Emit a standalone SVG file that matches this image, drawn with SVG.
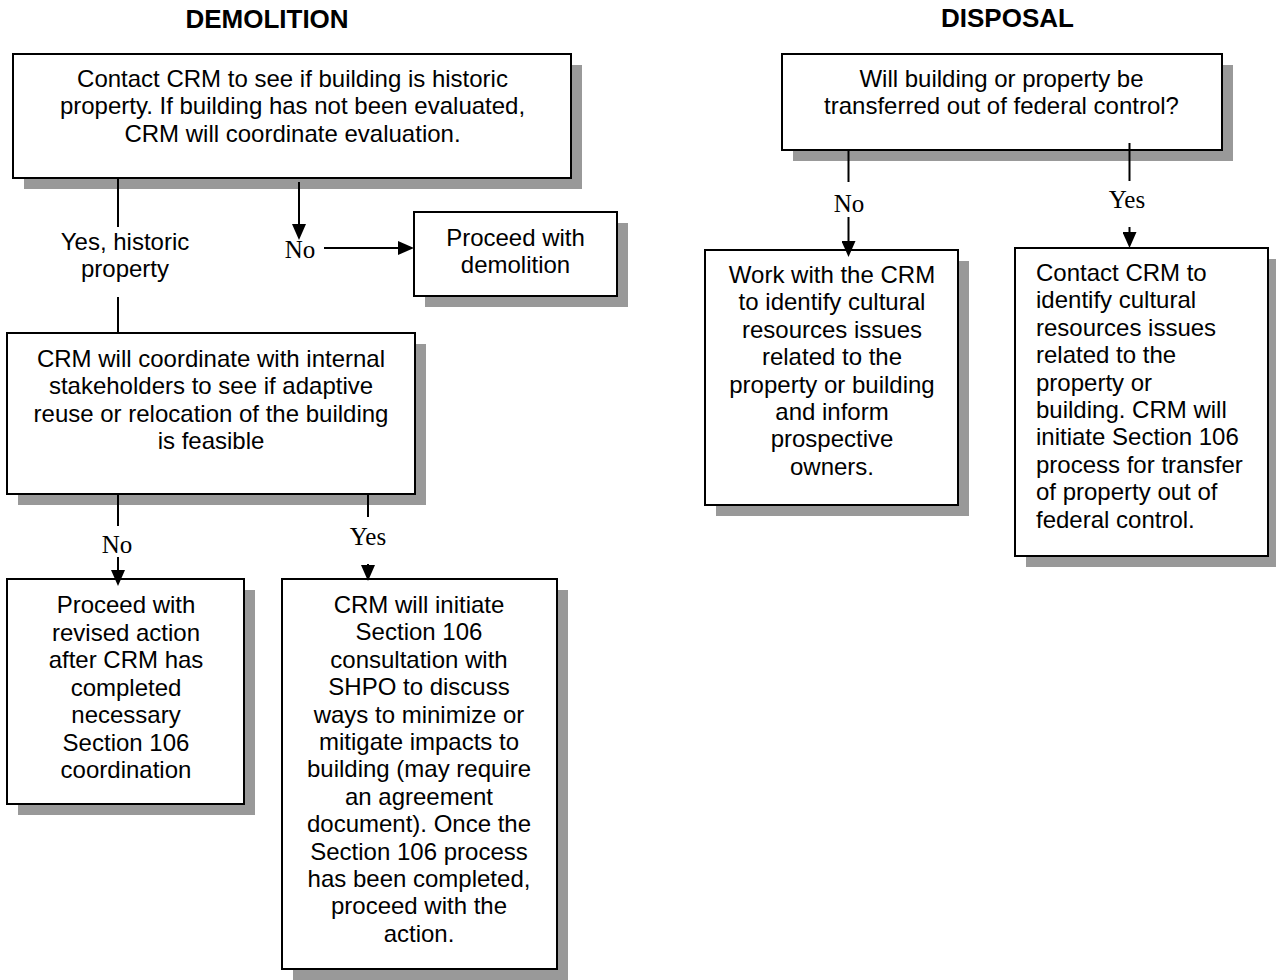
<svg xmlns="http://www.w3.org/2000/svg" width="1276" height="980" viewBox="0 0 1276 980">
<style>
.shadow{fill:#999999;stroke:none}
.box{fill:#ffffff;stroke:#000000;stroke-width:2}
.t{font-family:"Liberation Sans",Arial,sans-serif;font-size:24px;fill:#000000}
.c{text-anchor:middle}
.title{font-family:"Liberation Sans",Arial,sans-serif;font-size:26px;font-weight:bold;text-anchor:middle;fill:#000000}
.lbl{font-family:"Liberation Serif","Times New Roman",serif;font-size:25px;text-anchor:middle;fill:#000000}
.ln{stroke:#000000;stroke-width:2;fill:none}
.arr{marker-end:url(#ah)}
</style>
<defs>
<marker id="ah" markerUnits="userSpaceOnUse" markerWidth="16" markerHeight="14" refX="12" refY="7" orient="auto">
<path d="M0,0 L16,7 L0,14 z" fill="#000000"/>
</marker>
</defs>
<rect width="1276" height="980" fill="#ffffff"/>
<text class="title" x="267" y="27.5">DEMOLITION</text>
<text class="title" x="1007.5" y="27">DISPOSAL</text>

<g id="n-contact">
<rect class="shadow" x="24" y="65" width="558" height="124"/>
<rect class="box" x="13" y="54" width="558" height="124"/>
<text class="t c" x="292.5" y="87">Contact CRM to see if building is historic<tspan x="292.5" dy="27.4">property. If building has not been evaluated,</tspan><tspan x="292.5" dy="27.4">CRM will coordinate evaluation.</tspan></text>
</g>

<g id="n-proceed-demolition">
<rect class="shadow" x="425" y="223" width="203" height="84"/>
<rect class="box" x="414" y="212" width="203" height="84"/>
<text class="t c" x="515.5" y="246">Proceed with<tspan x="515.5" dy="27">demolition</tspan></text>
</g>

<g id="n-coordinate">
<rect class="shadow" x="18" y="344" width="408" height="161"/>
<rect class="box" x="7" y="333" width="408" height="161"/>
<text class="t c" x="211" y="367">CRM will coordinate with internal<tspan x="211" dy="27.4">stakeholders to see if adaptive</tspan><tspan x="211" dy="27.4">reuse or relocation of the building</tspan><tspan x="211" dy="27.4">is feasible</tspan></text>
</g>

<g id="n-revised">
<rect class="shadow" x="18" y="590" width="237" height="225"/>
<rect class="box" x="7" y="579" width="237" height="225"/>
<text class="t c" x="126" y="613">Proceed with<tspan x="126" dy="27.5">revised action</tspan><tspan x="126" dy="27.5">after CRM has</tspan><tspan x="126" dy="27.5">completed</tspan><tspan x="126" dy="27.5">necessary</tspan><tspan x="126" dy="27.5">Section 106</tspan><tspan x="126" dy="27.5">coordination</tspan></text>
</g>

<g id="n-initiate">
<rect class="shadow" x="293" y="590" width="275" height="390"/>
<rect class="box" x="282" y="579" width="275" height="390"/>
<text class="t c" x="419" y="613">CRM will initiate<tspan x="419" dy="27.4">Section 106</tspan><tspan x="419" dy="27.4">consultation with</tspan><tspan x="419" dy="27.4">SHPO to discuss</tspan><tspan x="419" dy="27.4">ways to minimize or</tspan><tspan x="419" dy="27.4">mitigate impacts to</tspan><tspan x="419" dy="27.4">building (may require</tspan><tspan x="419" dy="27.4">an agreement</tspan><tspan x="419" dy="27.4">document). Once the</tspan><tspan x="419" dy="27.4">Section 106 process</tspan><tspan x="419" dy="27.4">has been completed,</tspan><tspan x="419" dy="27.4">proceed with the</tspan><tspan x="419" dy="27.4">action.</tspan></text>
</g>

<g id="n-transfer">
<rect class="shadow" x="793" y="65" width="440" height="96"/>
<rect class="box" x="782" y="54" width="440" height="96"/>
<text class="t c" x="1001.5" y="87">Will building or property be<tspan x="1001.5" dy="27.4">transferred out of federal control?</tspan></text>
</g>

<g id="n-work">
<rect class="shadow" x="716" y="261" width="253" height="255"/>
<rect class="box" x="705" y="250" width="253" height="255"/>
<text class="t c" x="832" y="283">Work with the CRM<tspan x="832" dy="27.4">to identify cultural</tspan><tspan x="832" dy="27.4">resources issues</tspan><tspan x="832" dy="27.4">related to the</tspan><tspan x="832" dy="27.4">property or building</tspan><tspan x="832" dy="27.4">and inform</tspan><tspan x="832" dy="27.4">prospective</tspan><tspan x="832" dy="27.4">owners.</tspan></text>
</g>

<g id="n-contact-transfer">
<rect class="shadow" x="1026" y="259" width="253" height="308"/>
<rect class="box" x="1015" y="248" width="253" height="308"/>
<text class="t" x="1036" y="281">Contact CRM to<tspan x="1036" dy="27.4">identify cultural</tspan><tspan x="1036" dy="27.4">resources issues</tspan><tspan x="1036" dy="27.4">related to the</tspan><tspan x="1036" dy="27.4">property or</tspan><tspan x="1036" dy="27.4">building. CRM will</tspan><tspan x="1036" dy="27.4">initiate Section 106</tspan><tspan x="1036" dy="27.4">process for transfer</tspan><tspan x="1036" dy="27.4">of property out of</tspan><tspan x="1036" dy="27.4">federal control.</tspan></text>
</g>

<g id="connectors">
<line class="ln" x1="118" y1="178" x2="118" y2="227"/>
<text class="t c" x="125" y="250">Yes, historic<tspan x="125" dy="27">property</tspan></text>
<line class="ln" x1="118" y1="297" x2="118" y2="333"/>
<line class="ln arr" x1="299" y1="182" x2="299" y2="236"/>
<text class="lbl" x="300" y="258">No</text>
<line class="ln arr" x1="324" y1="248" x2="410" y2="248"/>
<line class="ln" x1="118" y1="494" x2="118" y2="526"/>
<text class="lbl" x="117" y="553">No</text>
<line class="ln arr" x1="118" y1="557" x2="118" y2="582"/>
<line class="ln" x1="368" y1="494" x2="368" y2="517"/>
<text class="lbl" x="368" y="545">Yes</text>
<line class="ln arr" x1="368" y1="564" x2="368" y2="577"/>
<line class="ln" x1="848.5" y1="150" x2="848.5" y2="182"/>
<text class="lbl" x="849" y="212">No</text>
<line class="ln arr" x1="848.5" y1="217" x2="848.5" y2="253"/>
<line class="ln" x1="1129.5" y1="143" x2="1129.5" y2="181"/>
<text class="lbl" x="1127" y="207.5">Yes</text>
<line class="ln arr" x1="1129.5" y1="227" x2="1129.5" y2="244"/>
</g>
</svg>
